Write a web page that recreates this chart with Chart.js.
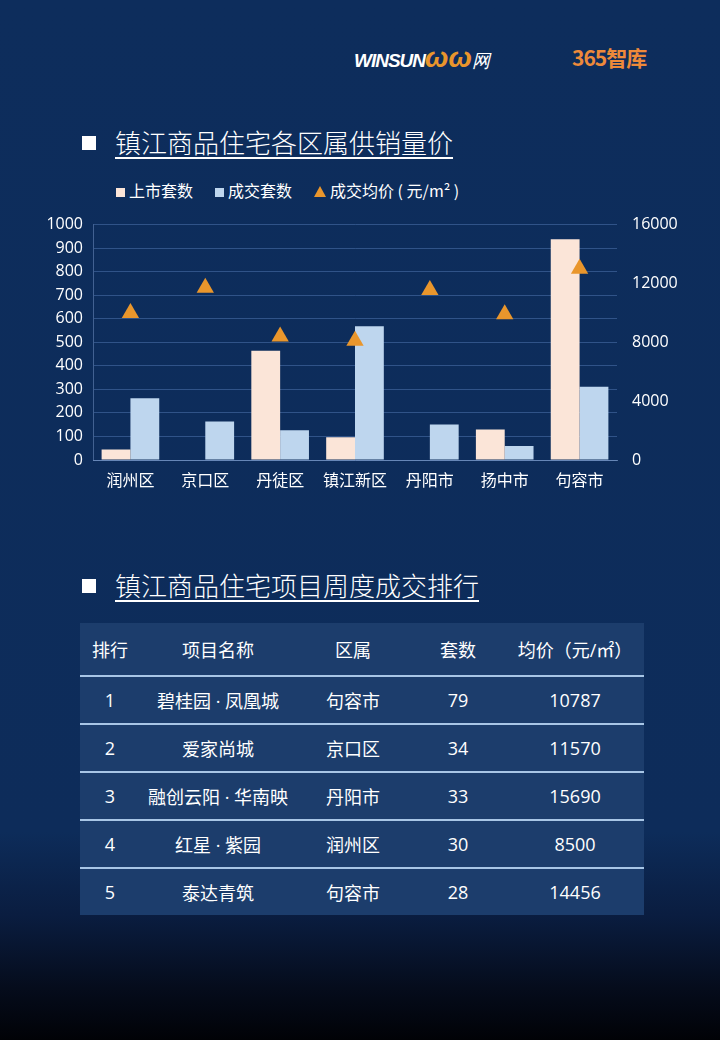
<!DOCTYPE html>
<html>
<head>
<meta charset="utf-8">
<script src="https://cdn.jsdelivr.net/npm/chart.js@4"></script>
<style>
    body {
        margin: 0;
        width: 720px;
        height: 1040px;
        overflow: hidden;
        font-family: "Noto Sans CJK SC", "Open Sans", sans-serif;
        color: #ffffff;
        background: linear-gradient(to bottom, #0d2d5c 0%, #0d2c5a 80%, #0a1d40 88%, #050c1c 95%, #010206 100%);
        position: relative;
    }
    .logo {
        position: absolute;
        top: 42px;
        left: 354px;
        font-family: "Liberation Sans", sans-serif;
    }
    .logo .winsun {
        font-style: italic;
        font-weight: bold;
        font-size: 19px;
        letter-spacing: -1px;
        color: #ffffff;
    }
    .logo .w {
        font-style: italic;
        font-weight: bold;
        font-size: 28px;
        color: #e9952c;
    }
    .logo .brand {
        position: absolute;
        left: 218px;
        top: 0;
        font-weight: bold;
        font-size: 21px;
        color: #ee8a3a;
        white-space: nowrap;
        font-family: "Noto Sans CJK SC", sans-serif;
        letter-spacing: -1px;
    }
    .section {
        position: absolute;
        left: 82px;
    }
    .section .box {
        position: absolute;
        left: 0;
        top: 3px;
        width: 14px;
        height: 14px;
        background: #ffffff;
    }
    .section .text {
        position: absolute;
        left: 33px;
        top: -10px;
        font-size: 26px;
        white-space: nowrap;
        text-decoration: underline;
        text-underline-offset: 4px;
        text-decoration-thickness: 2px;
        font-weight: 300;
    }
    #legend {
        position: absolute;
        left: 116px;
        top: 178px;
        font-size: 16px;
        white-space: nowrap;
    }
    #legend span.item {
        margin-right: 22px;
    }
    #legend .sq {
        display: inline-block;
        width: 9px;
        height: 9px;
        margin-right: 4px;
    }
    #legend .tri {
        display: inline-block;
        width: 0;
        height: 0;
        border-left: 6px solid transparent;
        border-right: 6px solid transparent;
        border-bottom: 11px solid #e9962c;
        margin-right: 4px;
    }
    #chartBox {
        position: absolute;
        left: 30px;
        top: 200px;
        width: 670px;
        height: 300px;
    }
    table {
        position: absolute;
        left: 80px;
        top: 623px;
        width: 564px;
        border-collapse: collapse;
        background: #1c3d6c;
        font-size: 18px;
        font-family: "Open Sans", "Noto Sans CJK SC", sans-serif;
        table-layout: fixed;
    }
    th {
        font-weight: normal;
        height: 52px;
        padding: 0;
        border-bottom: 2px solid #a8c6e6;
        text-align: center;
    }
    td {
        height: 46px;
        padding: 0;
        text-align: center;
        border-bottom: 2px solid #a8c6e6;
    }
    tr:last-child td {
        border-bottom: none;
    }
</style>
</head>
<body>

<div class="logo">
    <span class="winsun">WINSUN</span><span class="w">ωω</span><span style="font-size:18px;color:#fff;font-style:italic;">网</span>
    <span class="brand">365智库</span>
</div>

<div class="section" style="top:133px;">
    <div class="box"></div>
    <div class="text">镇江商品住宅各区属供销量价</div>
</div>

<div id="legend"></div>

<div id="chartBox"><canvas id="myChart"></canvas></div>

<div class="section" style="top:576px;">
    <div class="box"></div>
    <div class="text">镇江商品住宅项目周度成交排行</div>
</div>

<table id="rankTable"></table>

<script>
// chart data
const districts = ['润州区', '京口区', '丹徒区', '镇江新区', '丹阳市', '扬中市', '句容市'];
const listedUnits = [45, 0, 464, 97, 0, 130, 938];
const soldUnits = [262, 164, 126, 568, 151, 60, 311];
const avgPrice = [10000, 11700, 8400, 8100, 11550, 9900, 13000];

const seriesNames = ['上市套数', '成交套数', '成交均价（元/m²）'];
const seriesColors = ['#fbe5d8', '#bed6ee', '#e9962c'];

// ranking table data
const tableHead = ['排行', '项目名称', '区属', '套数', '均价（元/㎡）'];
const rankNo = [1, 2, 3, 4, 5];
const projectNames = ['碧桂园 · 凤凰城', '爱家尚城', '融创云阳 · 华南映', '红星 · 紫园', '泰达青筑'];
const projectAreas = ['句容市', '京口区', '丹阳市', '润州区', '句容市'];
const projectUnits = [79, 34, 33, 30, 28];
const projectPrices = [10787, 11570, 15690, 8500, 14456];

// legend
let legendHtml = '';
legendHtml += '<span class="item"><span class="sq" style="background:' + seriesColors[0] + '"></span>' + seriesNames[0] + '</span>';
legendHtml += '<span class="item"><span class="sq" style="background:' + seriesColors[1] + '"></span>' + seriesNames[1] + '</span>';
legendHtml += '<span class="item"><span class="tri"></span>成交均价 ( 元/m² )</span>';
document.getElementById('legend').innerHTML = legendHtml;

// table
let tableHtml = '<colgroup><col style="width:60px"><col style="width:156px"><col style="width:114px"><col style="width:96px"><col style="width:138px"></colgroup>';
tableHtml += '<tr>' + tableHead.map(h => '<th>' + h + '</th>').join('') + '</tr>';
for (let i = 0; i < rankNo.length; i++) {
    tableHtml += '<tr><td>' + rankNo[i] + '</td><td>' + projectNames[i] + '</td><td>' + projectAreas[i] +
        '</td><td>' + projectUnits[i] + '</td><td>' + projectPrices[i] + '</td></tr>';
}
document.getElementById('rankTable').innerHTML = tableHtml;

const tickFont = { family: '"Open Sans", "Noto Sans CJK SC", sans-serif', size: 16 };
// plain numbers, no thousands separator
const plainTick = function (value) { return String(value); };

var ctx = document.getElementById('myChart').getContext('2d');
var myChart = new Chart(ctx, {
    data: {
        labels: districts,
        datasets: [
            {
                type: 'line',
                label: seriesNames[2],
                data: avgPrice,
                yAxisID: 'y1',
                showLine: false,
                pointStyle: 'triangle',
                pointRadius: 10,
                pointHoverRadius: 10,
                pointBackgroundColor: seriesColors[2],
                pointBorderColor: seriesColors[2],
                pointBorderWidth: 0
            },
            {
                type: 'bar',
                label: seriesNames[0],
                data: listedUnits,
                yAxisID: 'y',
                backgroundColor: seriesColors[0],
                barPercentage: 1,
                categoryPercentage: 0.77
            },
            {
                type: 'bar',
                label: seriesNames[1],
                data: soldUnits,
                yAxisID: 'y',
                backgroundColor: seriesColors[1],
                barPercentage: 1,
                categoryPercentage: 0.77
            }
        ]
    },
    options: {
        responsive: true,
        maintainAspectRatio: false,
        animation: false,
        layout: { padding: { top: 22, right: 0, left: 0, bottom: 0 } },
        plugins: {
            legend: { display: false },
            tooltip: { enabled: false }
        },
        scales: {
            x: {
                grid: { display: false, drawTicks: false },
                border: { color: 'rgba(140,170,215,0.6)' },
                ticks: { color: '#ffffff', font: tickFont, padding: 12 },
                afterFit: function (scale) { scale.height = 40; }
            },
            y: {
                position: 'left',
                min: 0,
                max: 1000,
                ticks: { stepSize: 100, color: '#ffffff', font: tickFont, padding: 10, callback: plainTick },
                grid: { color: 'rgba(90,130,190,0.45)', drawTicks: false },
                border: { display: true, color: 'rgba(120,150,200,0.5)' },
                afterFit: function (scale) { scale.width = 63; }
            },
            y1: {
                position: 'right',
                min: 0,
                max: 16000,
                ticks: { stepSize: 4000, color: '#ffffff', font: tickFont, padding: 15, callback: plainTick },
                grid: { display: false, drawTicks: false },
                border: { display: false },
                afterFit: function (scale) { scale.width = 83; }
            }
        }
    }
});
</script>
</body>
</html>
